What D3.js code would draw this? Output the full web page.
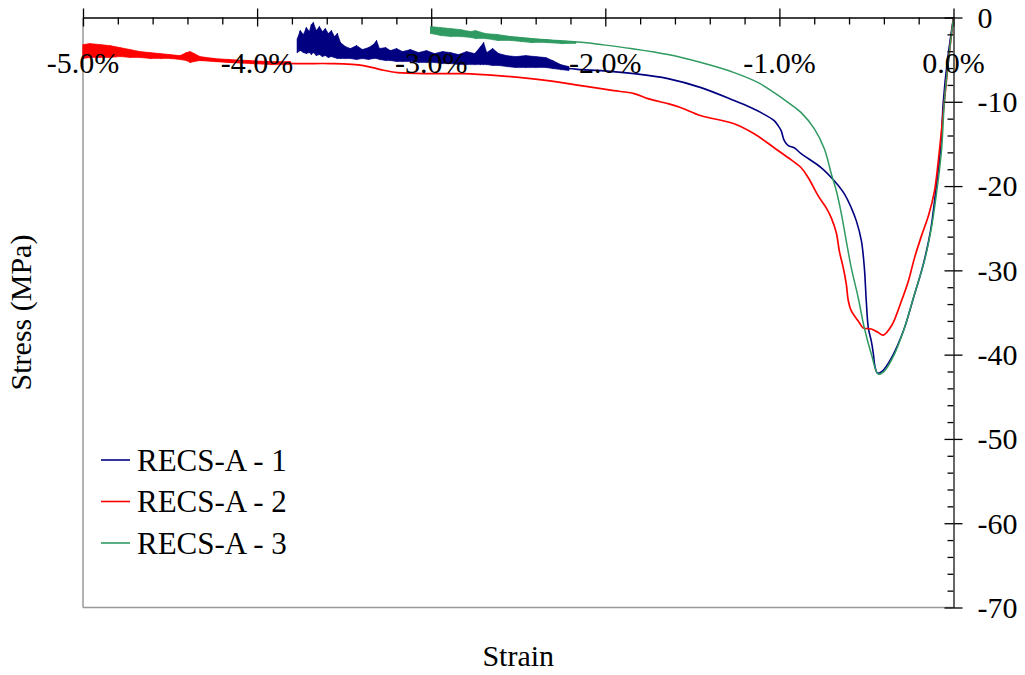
<!DOCTYPE html>
<html>
<head>
<meta charset="utf-8">
<script src="https://cdn.jsdelivr.net/npm/d3@7/dist/d3.min.js"></script>
<style>
  body { margin: 0; background: #fff; }
  text { font-family: "Liberation Serif", "Times New Roman", serif; fill: #000; }
</style>
</head>
<body>
<svg id="chart" width="1025" height="675"></svg>
<script>
// Axis tick values
const strainTicks = [-5, -4, -3, -2, -1, 0];
const strainMinorTicks = [-4.8, -4.6, -4.4, -4.2, -3.8, -3.6, -3.4, -3.2, -2.8, -2.6, -2.4, -2.2,
                          -1.8, -1.6, -1.4, -1.2, -0.8, -0.6, -0.4, -0.2];
const stressTicks = [0, -10, -20, -30, -40, -50, -60, -70];
const stressMinorTicks = [-2, -4, -6, -8, -12, -14, -16, -18, -22, -24, -26, -28, -32, -34, -36, -38,
                          -42, -44, -46, -48, -52, -54, -56, -58, -62, -64, -66, -68];

const seriesNames = ["RECS-A - 1", "RECS-A - 2", "RECS-A - 3"];
const seriesColors = ["#000080", "#ff0000", "#2f9a62"];

// [strain %, stress MPa] along each test path
const recs1 = [[0,0],[-0.035,-5.11],[-0.058,-9.86],[-0.075,-15.81],[-0.104,-20.92],[-0.132,-25.32],
  [-0.173,-29.24],[-0.230,-33.28],[-0.288,-37.20],[-0.357,-40.41],[-0.409,-41.95],[-0.437,-42.19],
  [-0.452,-41.3],[-0.460,-39.93],[-0.472,-38.4],[-0.489,-36.84],[-0.501,-33.63],[-0.512,-29.71],[-0.529,-26.50],
  [-0.558,-24.13],[-0.587,-22.58],[-0.627,-20.92],[-0.685,-19.37],[-0.759,-17.83],[-0.875,-16.16],
  [-0.915,-15.45],[-0.949,-15.21],[-0.972,-14.62],[-0.990,-13.43],[-1.007,-12.84],[-1.030,-12.24],
  [-1.105,-11.29],[-1.162,-10.71],[-1.260,-9.86],[-1.450,-8.32],[-1.640,-7.25],[-1.835,-6.66],
  [-2.025,-6.30],[-2.140,-6.18],[-2.256,-5.94],[-2.342,-5.47],[-2.457,-5.23],[-2.612,-5.11],
  [-2.797,-4.87],[-2.981,-4.64],[-3.165,-4.52],[-3.314,-4.28],[-3.464,-4.28],[-3.556,-3.80],
  [-3.660,-3.45],[-3.769,-3.80]];

const recs2 = [[0,0],[-0.029,-5.11],[-0.052,-9.86],[-0.081,-15.81],[-0.109,-20.56],[-0.144,-23.53],
  [-0.184,-25.91],[-0.224,-28.52],[-0.259,-31.26],[-0.299,-33.63],[-0.357,-36.61],[-0.403,-37.68],
  [-0.437,-37.32],[-0.472,-36.96],[-0.518,-36.84],[-0.547,-36.01],[-0.587,-34.82],[-0.604,-33.63],
  [-0.616,-31.61],[-0.633,-29.71],[-0.656,-27.69],[-0.673,-25.55],[-0.702,-23.77],[-0.731,-22.58],
  [-0.777,-21.16],[-0.834,-19.02],[-0.875,-17.83],[-0.949,-16.64],[-1.030,-15.45],[-1.145,-13.79],
  [-1.260,-12.60],[-1.450,-11.65],[-1.565,-10.70],[-1.640,-10.22],[-1.755,-9.63],[-1.835,-9.03],
  [-1.951,-8.68],[-2.025,-8.44],[-2.140,-8.08],[-2.330,-7.49],[-2.428,-7.25],[-2.618,-6.89],
  [-2.814,-6.66],[-3.003,-6.66],[-3.193,-6.54],[-3.291,-6.18],[-3.389,-5.70],[-3.579,-5.47],
  [-3.752,-5.47],[-4.000,-5.35],[-4.177,-5.23],[-4.327,-4.99],[-4.407,-4.75],[-4.614,-4.52],
  [-4.810,-4.16],[-5.000,-4.04]];

const recs3 = [[0,0],[-0.029,-5.11],[-0.052,-9.86],[-0.069,-15.81],[-0.098,-20.92],[-0.127,-24.96],
  [-0.167,-28.88],[-0.224,-32.80],[-0.282,-36.84],[-0.339,-39.93],[-0.397,-41.95],[-0.432,-42.31],
  [-0.472,-39.93],[-0.512,-36.84],[-0.547,-33.28],[-0.587,-29.71],[-0.616,-26.50],[-0.644,-23.29],
  [-0.673,-20.56],[-0.702,-18.54],[-0.742,-15.57],[-0.800,-13.19],[-0.875,-11.29],[-0.949,-10.10],
  [-1.030,-8.91],[-1.122,-7.73],[-1.260,-6.54],[-1.450,-5.35],[-1.640,-4.40],[-1.853,-3.68],
  [-2.025,-3.21],[-2.123,-2.97],[-2.313,-2.73],[-2.503,-2.38],[-2.698,-2.02],[-2.888,-1.78],
  [-3.003,-1.55]];

// Scatter bands of the noisy readings: [strain %, upper stress, lower stress]
const recs1Noise = [[-3.769,-2.50,-4.16],[-3.752,-1.55,-3.92],[-3.734,-2.02,-4.16],[-3.717,-1.19,-4.28],
  [-3.700,-1.66,-4.16],[-3.688,-0.83,-4.40],[-3.677,-0.59,-4.16],[-3.660,-1.55,-4.52],[-3.642,-1.07,-4.40],
  [-3.625,-1.66,-4.64],[-3.608,-1.31,-4.52],[-3.591,-1.90,-4.75],[-3.573,-1.55,-4.64],[-3.556,-2.26,-4.75],
  [-3.539,-1.90,-4.87],[-3.521,-2.97,-4.87],[-3.493,-3.45,-4.87],[-3.464,-3.68,-4.87],[-3.429,-3.33,-4.99],
  [-3.395,-3.80,-4.87],[-3.360,-3.57,-4.99],[-3.332,-3.21,-4.87],[-3.314,-2.73,-4.87],[-3.297,-3.68,-4.99],
  [-3.262,-3.57,-5.11],[-3.234,-3.92,-5.11],[-3.199,-3.68,-5.23],[-3.165,-4.04,-5.23],[-3.119,-3.80,-5.23],
  [-3.073,-4.16,-5.35],[-3.027,-3.92,-5.35],[-2.981,-4.28,-5.35],[-2.935,-4.04,-5.47],[-2.889,-4.16,-5.47],
  [-2.843,-4.40,-5.59],[-2.797,-4.04,-5.59],[-2.750,-4.28,-5.59],[-2.716,-3.45,-5.59],[-2.699,-2.97,-5.59],
  [-2.681,-4.16,-5.59],[-2.647,-3.68,-5.70],[-2.612,-4.28,-5.70],[-2.566,-4.52,-5.82],[-2.515,-4.64,-5.94],
  [-2.457,-4.52,-5.94],[-2.399,-4.64,-5.94],[-2.342,-4.75,-5.94],[-2.302,-5.11,-6.06],[-2.256,-5.59,-6.18],
  [-2.210,-5.82,-6.30]];

const recs2Noise = [[-5.000,-3.21,-4.87],[-4.960,-3.09,-4.75],[-4.902,-3.21,-4.75],[-4.845,-3.33,-4.75],
  [-4.787,-3.57,-4.64],[-4.729,-3.80,-4.75],[-4.672,-4.04,-4.75],[-4.614,-4.16,-4.87],[-4.557,-4.28,-4.87],
  [-4.499,-4.40,-4.87],[-4.442,-4.52,-4.99],[-4.407,-4.16,-5.11],[-4.384,-4.04,-5.35],[-4.361,-4.28,-5.23],
  [-4.327,-4.64,-5.11],[-4.241,-4.87,-5.23],[-4.154,-4.99,-5.35],[-4.039,-5.11,-5.47],[-3.924,-5.23,-5.59],
  [-3.809,-5.23,-5.59]];

const recs3Noise = [[-3.003,-1.07,-1.90],[-2.946,-1.19,-2.14],[-2.888,-1.31,-2.26],[-2.831,-1.43,-2.26],
  [-2.774,-1.66,-2.38],[-2.745,-1.55,-2.50],[-2.688,-1.90,-2.50],[-2.618,-2.02,-2.73],[-2.543,-2.26,-2.73],
  [-2.486,-2.38,-2.85],[-2.428,-2.50,-2.97],[-2.342,-2.61,-2.97],[-2.256,-2.73,-3.09],[-2.170,-2.85,-3.09]];

const curves = [recs1, recs2, recs3];
const bands = [recs1Noise, recs2Noise, recs3Noise];
const strokeWidths = [1.6, 1.7, 1.5];

const svg = d3.select("#chart");
const plotLeft = 83, plotRight = 953.5, plotTop = 17.5, plotBottom = 607.5;

const x = d3.scaleLinear().domain([-5, 0]).range([plotLeft, plotRight]);
const y = d3.scaleLinear().domain([-70, 0]).range([plotBottom, plotTop]);

// Plot frame on the open sides
svg.append("line").attr("x1", plotLeft).attr("x2", plotLeft).attr("y1", plotTop).attr("y2", plotBottom)
  .attr("stroke", "#999").attr("stroke-width", 1.5);
svg.append("line").attr("x1", plotLeft).attr("x2", plotRight).attr("y1", plotBottom).attr("y2", plotBottom)
  .attr("stroke", "#999").attr("stroke-width", 1.5);

// Noise bands (filled, with the spiky readings traced on top) and curves
const area = d3.area().x(d => x(d[0])).y0(d => y(d[1])).y1(d => y(d[2]));
const zigzag = d3.line().x(d => x(d[0])).y(d => y(d[1]));
const line = d3.line().x(d => x(d[0])).y(d => y(d[1])).curve(d3.curveCatmullRom.alpha(0.5));

curves.forEach((c, i) => {
  svg.append("path").datum(bands[i]).attr("d", area)
    .attr("fill", seriesColors[i]).attr("stroke", seriesColors[i]).attr("stroke-width", 0.6);
  svg.append("path").datum(bands[i].flatMap(d => [[d[0], d[1]], [d[0], d[2]]])).attr("d", zigzag)
    .attr("fill", "none").attr("stroke", seriesColors[i]).attr("stroke-width", 1);
  svg.append("path").datum(c).attr("d", line)
    .attr("fill", "none").attr("stroke", seriesColors[i]).attr("stroke-width", strokeWidths[i])
    .attr("stroke-linejoin", "round");
});

// Strain axis along the top
const xAxisG = svg.append("g").attr("transform", `translate(0,${plotTop})`);
xAxisG.append("g").call(d3.axisBottom(x).tickValues(strainMinorTicks).tickSize(7).tickFormat(""))
  .call(g => g.select(".domain").remove());
xAxisG.append("g").call(d3.axisBottom(x).tickValues(strainTicks).tickSize(9).tickFormat(""))
  .call(g => g.select(".domain").remove());
xAxisG.append("g").call(d3.axisTop(x).tickValues(strainTicks).tickSize(9).tickFormat("").tickSizeOuter(0))
  .call(g => g.select(".domain").attr("stroke", "#000").attr("stroke-width", 1.5));
xAxisG.selectAll(".tick line").attr("stroke", "#000").attr("stroke-width", 1.3);

// Stress axis on the right
const yAxisG = svg.append("g").attr("transform", `translate(${plotRight},0)`);
yAxisG.append("g").call(d3.axisLeft(y).tickValues(stressMinorTicks).tickSize(6).tickFormat(""))
  .call(g => g.select(".domain").remove());
yAxisG.append("g").call(d3.axisLeft(y).tickValues(stressTicks).tickSize(9).tickFormat(""))
  .call(g => g.select(".domain").remove());
yAxisG.append("g").call(d3.axisRight(y).tickValues(stressTicks).tickSize(9).tickPadding(15).tickSizeOuter(0)
    .tickFormat(d => d3.format("d")(d).replace("\u2212", "-")))
  .call(g => g.select(".domain").attr("stroke", "#333").attr("stroke-width", 1.5))
  .call(g => g.selectAll("text").attr("font-size", 30).attr("font-family", "Liberation Serif").attr("fill", "#000").attr("dy", "0.33em"));
yAxisG.selectAll(".tick line").attr("stroke", "#000").attr("stroke-width", 1.3);

// Strain tick labels sit just below the axis, inside the plot
svg.append("g").selectAll("text").data(strainTicks).join("text")
  .attr("x", d => x(d)).attr("y", 73).attr("text-anchor", "middle").attr("font-size", 30)
  .text(d => d3.format(".1f")(d).replace("\u2212", "-") + "%");

// Axis titles
svg.append("text").attr("x", (plotLeft + plotRight) / 2).attr("y", 666).attr("text-anchor", "middle")
  .attr("font-size", 30).text("Strain");
svg.append("text").attr("transform", `translate(31,${(plotTop + plotBottom) / 2}) rotate(-90)`)
  .attr("text-anchor", "middle").attr("font-size", 30).text("Stress (MPa)");

// Legend
const legend = svg.append("g");
const legendY = [460, 501.5, 543];
seriesNames.forEach((name, i) => {
  legend.append("line").attr("x1", 101).attr("x2", 130).attr("y1", legendY[i]).attr("y2", legendY[i])
    .attr("stroke", seriesColors[i]).attr("stroke-width", 1.6);
  legend.append("text").attr("x", 137).attr("y", legendY[i] + 10.5).attr("font-size", 31).text(name);
});
</script>
</body>
</html>
